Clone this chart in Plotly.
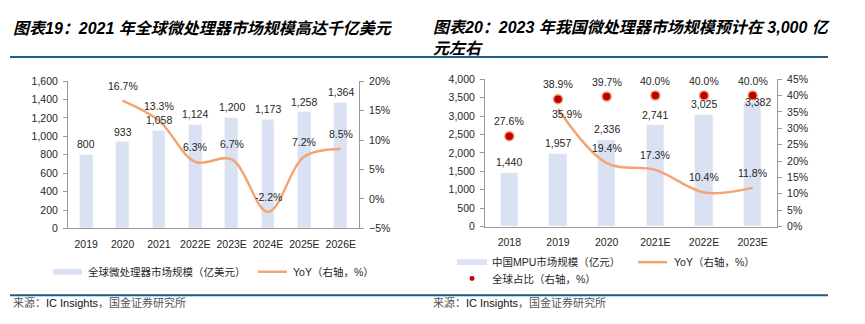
import plotly.graph_objects as go

# ---------------- data ----------------
left_years = ["2019", "2020", "2021", "2022E", "2023E", "2024E", "2025E", "2026E"]
left_market = [800, 933, 1058, 1124, 1200, 1173, 1258, 1364]
left_yoy = [None, 16.7, 13.3, 6.3, 6.7, -2.2, 7.2, 8.5]

right_years = ["2018", "2019", "2020", "2021E", "2022E", "2023E"]
right_market = [1440, 1957, 2336, 2741, 3025, 3382]
right_yoy = [None, 35.9, 19.4, 17.3, 10.4, 11.8]
right_share = [27.6, 38.9, 39.7, 40.0, 40.0, 40.0]

# ---------------- style ----------------
W, H = 865, 324
BAR = "#D9E1F2"
ORANGE = "#F4A472"
RED = "#C00000"
NAVY = "#1F5C86"
AXIS = "#9A9A9A"
TXT = "#262626"
LAT = "Liberation Sans, Arial, Noto Sans CJK SC"
CJK = "Liberation Sans, Noto Sans CJK SC"
FS = 10.5


def px(x):
    return x / W


def py(y):
    return 1 - y / H


fig = go.Figure()

# left chart
fig.add_trace(go.Bar(x=left_years, y=left_market, width=0.35, marker_color=BAR,
                     xaxis="x", yaxis="y", showlegend=False))
fig.add_trace(go.Scatter(x=left_years, y=left_yoy, mode="lines", connectgaps=False,
                         line=dict(color=ORANGE, width=2.5, shape="spline", smoothing=1.0),
                         xaxis="x", yaxis="y2", showlegend=False))

# right chart
fig.add_trace(go.Bar(x=right_years, y=right_market, width=0.35, marker_color=BAR,
                     xaxis="x2", yaxis="y3", showlegend=False))
fig.add_trace(go.Scatter(x=right_years, y=right_yoy, mode="lines", connectgaps=False,
                         line=dict(color=ORANGE, width=2.5, shape="spline", smoothing=1.0),
                         xaxis="x2", yaxis="y4", showlegend=False))
fig.add_trace(go.Scatter(x=right_years, y=right_share, mode="markers",
                         marker=dict(color=RED, size=9, line=dict(color="#F39A6B", width=1.5)),
                         xaxis="x2", yaxis="y4", showlegend=False))

annotations = []


def label(i, y, text, xref, yref, yshift=11, xshift=0):
    # i = category index on the category axis
    annotations.append(dict(x=i, y=y, xref=xref, yref=yref, text=text, showarrow=False,
                            yshift=yshift, xshift=xshift,
                            font=dict(family=LAT, size=FS, color=TXT)))


for i, v in enumerate(left_market):
    label(i, v, f"{v:,}", "x", "y", yshift=11)
for i, v in enumerate(left_yoy):
    if v is not None:
        label(i, v, f"{v:.1f}%", "x", "y2", yshift=15)

bar_nudge = {"2023E": (5, 0)}
for i, (c, v) in enumerate(zip(right_years, right_market)):
    dx, dy = bar_nudge.get(c, (0, 11))
    label(i, v, f"{v:,}", "x2", "y3", yshift=dy, xshift=dx)
yoy_nudge = {"2019": (9, -5)}
for i, (c, v) in enumerate(zip(right_years, right_yoy)):
    if v is not None:
        dx, dy = yoy_nudge.get(c, (0, 15))
        label(i, v, f"{v:.1f}%", "x2", "y4", yshift=dy, xshift=dx)
for i, v in enumerate(right_share):
    label(i, v, f"{v:.1f}%", "x2", "y4", yshift=15)


def paper_text(x, y, text, size=FS, color=TXT, family=CJK, yanchor="middle"):
    annotations.append(dict(x=px(x), y=py(y), xref="paper", yref="paper", text=text,
                            showarrow=False, xanchor="left", yanchor=yanchor, align="left",
                            font=dict(family=family, size=size, color=color)))


# titles
paper_text(11, 23, "<b><i>图表19：2021 年全球微处理器市场规模高达千亿美元</i></b>", size=16, color="#000")
paper_text(431, 33, "<b><i>图表20：2023 年我国微处理器市场规模预计在 3,000 亿<br>元左右</i></b>",
           size=16, color="#000")

# legends (text)
paper_text(86, 276, "全球微处理器市场规模（亿美元）")
paper_text(291, 276, "YoY（右轴，%）")
paper_text(490, 266, "中国MPU市场规模（亿元）")
paper_text(672, 266, "YoY（右轴，%）")
paper_text(490, 284, "全球占比（右轴，%）")

# source
src = "<span style='color:#555'>来源：</span>IC Insights<span style='color:#555'>，国金证券研究所</span>"
paper_text(11, 308, src, size=11, color="#111")
paper_text(431, 308, src, size=11, color="#111")

shapes = [
    dict(type="line", xref="paper", yref="paper", x0=px(10), x1=px(828), y0=py(53), y1=py(53),
         line=dict(color=NAVY, width=2)),
    dict(type="line", xref="paper", yref="paper", x0=px(10), x1=px(828), y0=py(300.5), y1=py(300.5),
         line=dict(color=NAVY, width=2)),
    # legend symbols
    dict(type="rect", xref="paper", yref="paper", x0=px(53), x1=px(82), y0=py(279), y1=py(273),
         line=dict(width=0), fillcolor=BAR),
    dict(type="line", xref="paper", yref="paper", x0=px(258), x1=px(287), y0=py(276), y1=py(276),
         line=dict(color=ORANGE, width=2.5)),
    dict(type="rect", xref="paper", yref="paper", x0=px(457), x1=px(487), y0=py(269), y1=py(263),
         line=dict(width=0), fillcolor=BAR),
    dict(type="line", xref="paper", yref="paper", x0=px(638), x1=px(667), y0=py(266), y1=py(266),
         line=dict(color=ORANGE, width=2.5)),
    dict(type="circle", xref="paper", yref="paper", x0=px(469.5), x1=px(474.5), y0=py(285.5), y1=py(280.5),
         line=dict(width=0), fillcolor=RED),
]

tickfont = dict(family=LAT, size=FS, color=TXT)
yax_common = dict(showgrid=False, zeroline=False, showline=True, linecolor=AXIS, linewidth=1,
                  ticks="outside", ticklen=4, tickcolor=AXIS, tickfont=tickfont, fixedrange=True,
                  ticklabelstandoff=3)
xax_common = dict(showgrid=False, zeroline=False, showline=True, linecolor=AXIS, linewidth=1,
                  ticks="", tickfont=tickfont, type="category", ticklabelstandoff=6)

LD = [px(68), px(359)]
LY = [py(231), py(78)]
RD = [px(485), px(777)]
RY = [py(229), py(76)]

fig.update_layout(
    width=W, height=H,
    margin=dict(l=0, r=0, t=0, b=0),
    paper_bgcolor="white", plot_bgcolor="white",
    bargap=0,
    showlegend=False,
    xaxis=dict(domain=LD, anchor="y", range=[-0.5, len(left_years) - 0.5],
               categoryorder="array", categoryarray=left_years, **xax_common),
    yaxis=dict(domain=LY, anchor="x", range=[0, 1600], dtick=200, tickformat=",", **yax_common),
    yaxis2=dict(overlaying="y", side="right", anchor="x", range=[-5, 20], dtick=5,
                ticksuffix="%", **yax_common),
    xaxis2=dict(domain=RD, anchor="y3", range=[-0.5, len(right_years) - 0.5],
                categoryorder="array", categoryarray=right_years, **xax_common),
    yaxis3=dict(domain=RY, anchor="x2", range=[0, 4000], dtick=500, tickformat=",", **yax_common),
    yaxis4=dict(overlaying="y3", side="right", anchor="x2", range=[0, 45], dtick=5,
                ticksuffix="%", **yax_common),
    annotations=annotations,
    shapes=shapes,
)

fig.write_html("out.html")
